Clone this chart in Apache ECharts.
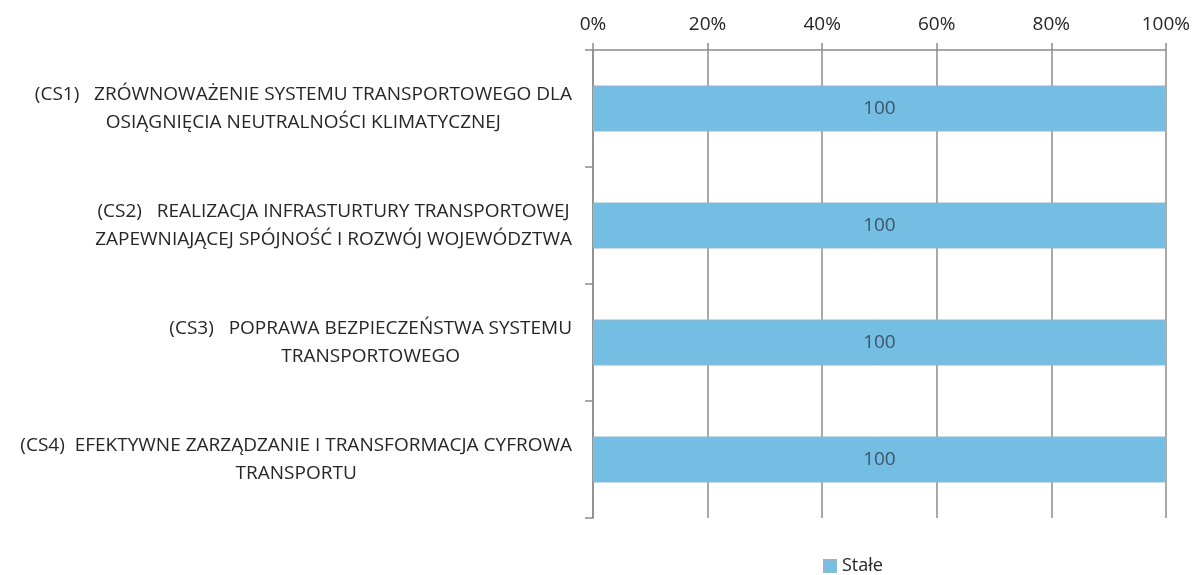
<!DOCTYPE html>
<html>
<head>
<meta charset="utf-8">
<script src="https://cdn.jsdelivr.net/npm/echarts@6/dist/echarts.min.js"></script>
<style>
  html, body { margin: 0; padding: 0; background: #fff; }
  #chart { width: 1193px; height: 575px; }
</style>
</head>
<body>
<div id="chart"></div>
<script>
// Strategic objectives (two-line labels) and their share of fixed items
const categories = [
  ['(CS1)   ZRÓWNOWAŻENIE SYSTEMU TRANSPORTOWEGO DLA', 'OSIĄGNIĘCIA NEUTRALNOŚCI KLIMATYCZNEJ'],
  ['(CS2)   REALIZACJA INFRASTURTURY TRANSPORTOWEJ', 'ZAPEWNIAJĄCEJ SPÓJNOŚĆ I ROZWÓJ WOJEWÓDZTWA'],
  ['(CS3)   POPRAWA BEZPIECZEŃSTWA SYSTEMU', 'TRANSPORTOWEGO'],
  ['(CS4)  EFEKTYWNE ZARZĄDZANIE I TRANSFORMACJA CYFROWA', 'TRANSPORTU']
];
const seriesName = 'Stałe';
const staleValues = [100, 100, 100, 100];
const xTicks = [0, 20, 40, 60, 80, 100];

const FONT = '"Open Sans", sans-serif';
const TEXT = '#262626';
const GRID = '#8c8c8c';

const chart = echarts.init(document.getElementById('chart'), null, { renderer: 'canvas' });
chart.setOption({
  animation: false,
  backgroundColor: '#ffffff',
  grid: { left: 593, right: 27, top: 50, bottom: 57, containLabel: false },
  legend: {
    show: true,
    data: [seriesName],
    left: 818,
    top: 552,
    itemWidth: 12,
    itemHeight: 12,
    itemGap: 6,
    icon: 'rect',
    textStyle: { fontFamily: FONT, fontSize: 18, color: TEXT, padding: [0, 0, 0, 1] }
  },
  xAxis: {
    type: 'value',
    position: 'top',
    min: xTicks[0],
    max: xTicks[xTicks.length - 1],
    interval: 20,
    axisLine: { show: true, lineStyle: { color: GRID, width: 1.5 } },
    axisTick: { show: true, length: 7, inside: false, lineStyle: { color: GRID, width: 1.5 } },
    splitLine: { show: true, lineStyle: { color: GRID, width: 1.5 } },
    axisLabel: {
      margin: 16,
      fontFamily: FONT,
      fontSize: 19,
      color: TEXT,
      formatter: v => v + '%'
    }
  },
  yAxis: {
    type: 'category',
    inverse: true,
    data: categories.map(c => c.join('\n')),
    axisLine: { show: true, lineStyle: { color: GRID, width: 1.5 } },
    axisTick: { show: true, length: 8, lineStyle: { color: GRID, width: 1.5 } },
    axisLabel: {
      margin: 21,
      align: 'right',
      fontFamily: FONT,
      fontSize: 19,
      color: TEXT,
      lineHeight: 28,
      formatter: v => v.split('\n').map(s => '{c|' + s + '}').join('\n'),
      rich: {
        c: { align: 'center', fontFamily: FONT, fontSize: 19, color: TEXT, lineHeight: 28 }
      }
    }
  },
  series: [{
    name: seriesName,
    type: 'bar',
    data: staleValues,
    barWidth: 46,
    itemStyle: { color: '#74bde3', borderColor: '#8fb9d2', borderWidth: 1 },
    label: {
      show: true,
      position: 'inside',
      fontFamily: FONT,
      fontSize: 19,
      color: '#3f5468'
    }
  }]
});
</script>
</body>
</html>
